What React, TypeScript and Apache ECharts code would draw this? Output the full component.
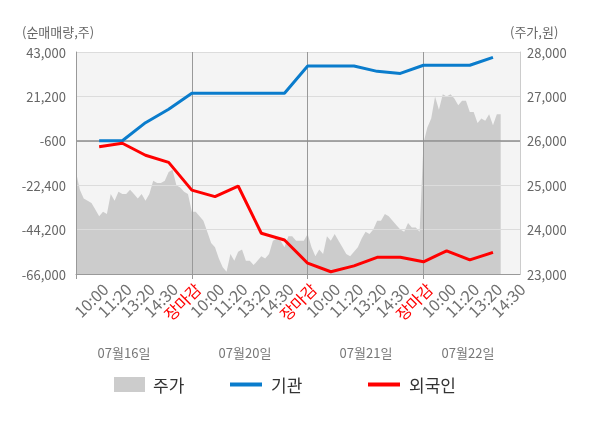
import React, { useEffect, useRef } from "react";
import * as echarts from "echarts";

const dayTimes = ["10:00", "11:20", "13:20", "14:30", "장마감"];
const dates = ["07월16일", "07월20일", "07월21일", "07월22일"];

// 주가 (price), sampled per day
const priceDay1 = [25300, 24900, 24700, 24650, 24600, 24450, 24300, 24400, 24350, 24800, 24650, 24850, 24800, 24800, 24900, 24800, 24700, 24800, 24650, 24800, 25100, 25050, 25050, 25100, 25300, 25350, 25000, 24950, 24850, 24800];
const priceDay2 = [24400, 24400, 24300, 24200, 23950, 23700, 23600, 23350, 23150, 23050, 23450, 23300, 23500, 23550, 23300, 23300, 23200, 23300, 23400, 23350, 23450, 23750, 23800, 23750, 23600, 23850, 23850, 23750, 23750, 23750];
const priceDay3 = [23900, 23600, 23400, 23550, 23450, 23850, 23750, 23900, 23750, 23600, 23450, 23400, 23500, 23600, 23800, 23950, 23900, 24000, 24200, 24200, 24350, 24300, 24200, 24100, 24000, 23950, 24150, 24050, 24050, 23950];
const priceDay4 = [25950, 26300, 26500, 27000, 26700, 27050, 27000, 27050, 26950, 26800, 26900, 26900, 26650, 26650, 26400, 26500, 26450, 26600, 26350, 26600, 26600];

// 기관 / 외국인 net volume at each labelled time
const institution = [-600, -600, 8300, 14900, 22700, 22700, 22700, 22700, 22700, 36100, 36100, 36100, 33500, 32500, 36500, 36500, 36500, 40400];
const foreign = [-3500, -1800, -7700, -11200, -24800, -28000, -22800, -46000, -49300, -60700, -64900, -62000, -57800, -57800, -60000, -54600, -59100, -55400];

const baseLine = -600;

const SUB = 6; // sub-steps per label slot
const DAY = SUB * 5;
const TOTAL = 116;

export default function App() {
  const ref = useRef<HTMLDivElement>(null);
  useEffect(() => {
    if (!ref.current) return;
    const chart = echarts.init(ref.current, null, { renderer: "svg" });

    const categories: string[] = [];
    for (let i = 0; i < TOTAL; i++) {
      if (i > 0 && i % SUB === 0) categories.push(dayTimes[(i / SUB - 1) % 5]);
      else categories.push("");
    }
    const price = [...priceDay1, ...priceDay2, ...priceDay3, ...priceDay4];
    const instData: (number | null)[] = new Array(TOTAL).fill(null);
    const forData: (number | null)[] = new Array(TOTAL).fill(null);
    institution.forEach((v, k) => (instData[(k + 1) * SUB] = v));
    foreign.forEach((v, k) => (forData[(k + 1) * SUB] = v));

    const fmt = (v: number) => v.toLocaleString("en-US");
    const font = "Noto Sans CJK KR";
    const dateX = [124, 245, 366, 468];
    const legendText = { fontSize: 17, color: "#333", fontFamily: font };

    chart.setOption({
      animation: false,
      textStyle: { fontFamily: font },
      grid: { left: 76, right: 80, top: 52, bottom: 154, show: true, backgroundColor: "#f4f4f4", borderWidth: 0 },
      legend: [
        { left: 114, top: 376, padding: 0, icon: "rect", itemWidth: 31, itemHeight: 15, data: ["주가"], selectedMode: false, textStyle: { ...legendText, padding: [0, 0, 0, 3] } },
        { left: 230, top: 376, padding: 0, icon: "rect", itemWidth: 32, itemHeight: 4, data: ["기관"], selectedMode: false, textStyle: { ...legendText, padding: [0, 0, 0, 4] } },
        { left: 368, top: 376, padding: 0, icon: "rect", itemWidth: 32, itemHeight: 4, data: ["외국인"], selectedMode: false, textStyle: { ...legendText, padding: [0, 0, 0, 4] } },
      ],
      xAxis: {
        type: "category",
        data: categories,
        boundaryGap: false,
        z: 2,
        axisLine: { onZero: false, lineStyle: { color: "#999" } },
        axisTick: { show: true, interval: (i: number) => i % DAY === 0, length: 5, lineStyle: { color: "#999" } },
        splitLine: { show: true, interval: (i: number) => i > 0 && i % DAY === 0, lineStyle: { color: "#999", width: 1 } },
        axisLabel: {
          interval: (i: number, v: string) => v !== "",
          rotate: 45,
          fontSize: 16,
          fontFamily: font,
          margin: 6,
          align: "right",
          verticalAlign: "top",
          color: (v: string, i: number) => (v === "장마감" ? "#ff0000" : i === 3 * DAY + SUB ? "#333" : "#707070"),
        },
      },
      yAxis: [
        {
          type: "value",
          min: -66000,
          max: 43000,
          interval: 21800,
          z: 2,
          axisLine: { show: true, lineStyle: { color: "#999" } },
          axisTick: { show: false },
          splitLine: { show: true, lineStyle: { color: "#dcdcdc" } },
          axisLabel: { formatter: fmt, fontSize: 13, color: "#666", margin: 10, fontFamily: font },
        },
        {
          type: "value",
          min: 23000,
          max: 28000,
          interval: 1000,
          position: "right",
          z: 2,
          axisLine: { show: true, lineStyle: { color: "#ccc" } },
          axisTick: { show: false },
          splitLine: { show: false },
          axisLabel: { formatter: fmt, fontSize: 13, color: "#666", margin: 7, fontFamily: font },
        },
      ],
      series: [
        {
          name: "주가",
          type: "line",
          yAxisIndex: 1,
          data: price,
          symbol: "none",
          z: 1,
          color: "#cccccc",
          lineStyle: { width: 0 },
          areaStyle: { color: "#cccccc", opacity: 1, origin: "start" },
        },
        {
          name: "기관",
          type: "line",
          data: instData,
          connectNulls: true,
          symbol: "none",
          z: 3,
          color: "#0a7ccc",
          lineStyle: { width: 3, color: "#0a7ccc" },
          markLine: {
            silent: true,
            symbol: "none",
            z: 2,
            label: { show: false },
            lineStyle: { color: "#8c8c8c", width: 1.5, type: "solid" },
            data: [{ yAxis: baseLine }],
          },
        },
        {
          name: "외국인",
          type: "line",
          data: forData,
          connectNulls: true,
          symbol: "none",
          z: 4,
          color: "#ff0000",
          lineStyle: { width: 3, color: "#ff0000" },
        },
      ],
      graphic: [
        { type: "text", left: 22, top: 25, style: { text: "(순매매량,주)", fontSize: 13, fill: "#666", fontFamily: font } },
        { type: "text", left: 510, top: 25, style: { text: "(주가,원)", fontSize: 13, fill: "#666", fontFamily: font } },
        ...dates.map((d, i) => ({
          type: "text",
          x: dateX[i],
          y: 352,
          style: { text: d, fontSize: 13, fill: "#777", fontFamily: font, textAlign: "center", textVerticalAlign: "middle" },
        })),
      ],
    });
    return () => chart.dispose();
  }, []);
  return <div ref={ref} style={{ position: "fixed", left: 0, top: 0, width: 600, height: 428 }} />;
}
